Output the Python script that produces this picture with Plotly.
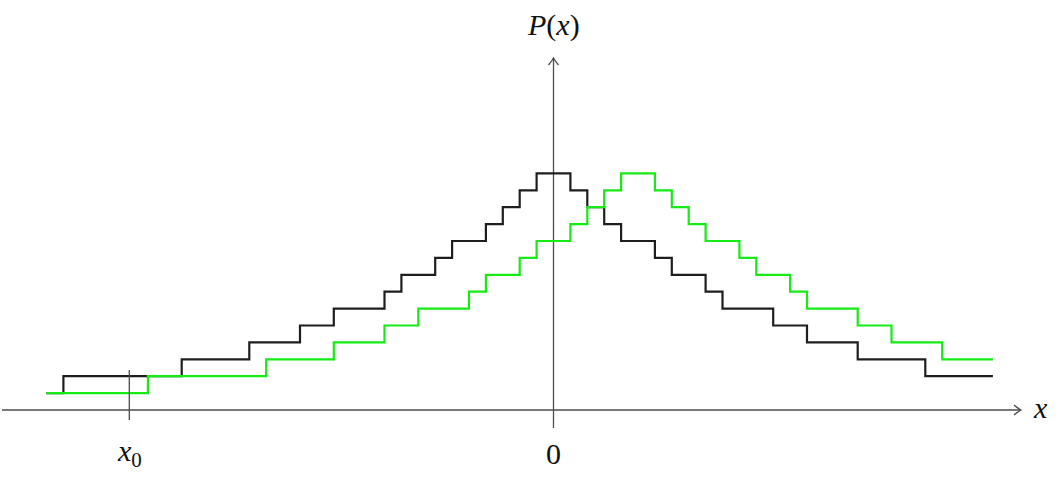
import plotly.graph_objects as go

# Step function data (x in grid units, P in level units)
black_x = [-30, -29, -22, -18, -15, -13, -10, -9, -7, -6, -4, -3, -2, -1, 1, 2, 3, 4, 6, 7, 9, 10, 13, 15, 18, 22, 26]
black_p = [1, 2, 3, 4, 5, 6, 7, 8, 9, 10, 11, 12, 13, 14, 13, 12, 11, 10, 9, 8, 7, 6, 5, 4, 3, 2]

green_x = [-30, -24, -17, -13, -10, -8, -5, -4, -2, -1, 1, 2, 3, 4, 6, 7, 8, 9, 11, 12, 14, 15, 18, 20, 23, 26]
green_p = [1, 2, 3, 4, 5, 6, 7, 8, 9, 10, 11, 12, 13, 14, 13, 12, 11, 10, 9, 8, 7, 6, 5, 4, 3]

tick_pos = [-25.1, 0]
tick_labels = ["<i>x</i><sub>0</sub>", "0"]

W, H = 1060, 480
X_ORIGIN_PX, Y_ORIGIN_PX, UNIT = 553.5, 410.0, 16.9
xr = [-X_ORIGIN_PX / UNIT, (W - X_ORIGIN_PX) / UNIT]
yr = [-(H - Y_ORIGIN_PX) / UNIT, Y_ORIGIN_PX / UNIT]


def px2x(px):
    return (px - X_ORIGIN_PX) / UNIT


def py2y(py):
    return (Y_ORIGIN_PX - py) / UNIT


fig = go.Figure()
fig.add_trace(go.Scatter(x=black_x, y=black_p + [black_p[-1]], mode="lines",
                         line=dict(color="#1e1e1e", width=2.2, shape="hv"),
                         hoverinfo="skip", showlegend=False))
fig.add_trace(go.Scatter(x=green_x, y=green_p + [green_p[-1]], mode="lines",
                         line=dict(color="#14ec14", width=2.2, shape="hv"),
                         hoverinfo="skip", showlegend=False))

axis_col = "#4d4d4d"
shapes = []
# x axis
x_tip = px2x(1021)
shapes.append(dict(type="line", xref="x", yref="y", x0=px2x(2), x1=x_tip, y0=0, y1=0,
                   line=dict(color=axis_col, width=1.3), layer="below"))
ah_dx, ah_dy = 7 / UNIT, 5 / UNIT
shapes.append(dict(type="path", xref="x", yref="y",
                   path=f"M {x_tip-ah_dx},{ah_dy} Q {x_tip-ah_dx*0.35},{ah_dy*0.25} {x_tip},0 "
                        f"Q {x_tip-ah_dx*0.35},{-ah_dy*0.25} {x_tip-ah_dx},{-ah_dy}",
                   line=dict(color=axis_col, width=1.3)))
# y axis
y_tip = py2y(58)
shapes.append(dict(type="line", xref="x", yref="y", x0=0, x1=0, y0=py2y(428), y1=y_tip,
                   line=dict(color=axis_col, width=1.3), layer="below"))
shapes.append(dict(type="path", xref="x", yref="y",
                   path=f"M {-ah_dy},{y_tip-ah_dx} Q {-ah_dy*0.25},{y_tip-ah_dx*0.35} 0,{y_tip} "
                        f"Q {ah_dy*0.25},{y_tip-ah_dx*0.35} {ah_dy},{y_tip-ah_dx}",
                   line=dict(color=axis_col, width=1.3)))
# x0 tick
shapes.append(dict(type="line", xref="x", yref="y", x0=tick_pos[0], x1=tick_pos[0],
                   y0=py2y(420), y1=py2y(370), line=dict(color=axis_col, width=1.3)))

FAM = "Liberation Serif, Times New Roman, serif"
font = dict(family=FAM, size=30, color="#111111")
annotations = []
for pos, lab in zip(tick_pos, tick_labels):
    annotations.append(dict(x=pos, y=py2y(453), xref="x", yref="y", text=lab, showarrow=False,
                            font=font, xanchor="center", yanchor="middle"))
annotations.append(dict(x=px2x(1040), y=py2y(407), xref="x", yref="y", text="<i>x</i>",
                        showarrow=False, font=font, xanchor="center", yanchor="middle"))
annotations.append(dict(x=0, y=py2y(25), xref="x", yref="y", text="<i>P</i>(<i>x</i>)",
                        showarrow=False, font=font, xanchor="center", yanchor="middle"))

fig.update_layout(
    width=W, height=H, autosize=False,
    font=dict(family=FAM, size=30, color="#111111"),
    margin=dict(l=0, r=0, t=0, b=0, pad=0),
    paper_bgcolor="white", plot_bgcolor="white",
    xaxis=dict(range=xr, visible=False, fixedrange=True),
    yaxis=dict(range=yr, visible=False, fixedrange=True),
    shapes=shapes, annotations=annotations, showlegend=False,
)
fig.write_html("out.html")
